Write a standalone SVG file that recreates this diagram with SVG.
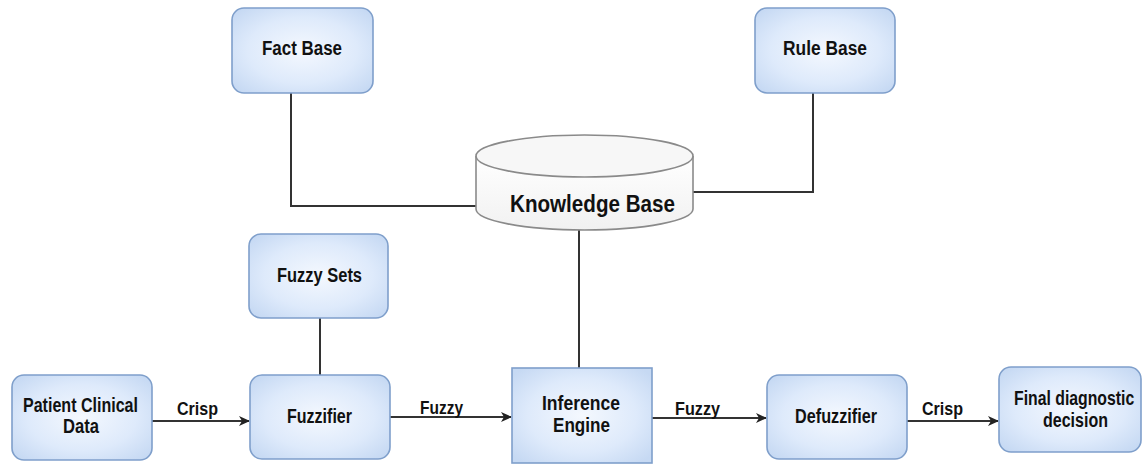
<svg xmlns="http://www.w3.org/2000/svg" width="1145" height="467" viewBox="0 0 1145 467">
<defs>
<radialGradient id="bg" cx="50%" cy="50%" r="65%">
<stop offset="0" stop-color="#f4f8fe"/>
<stop offset="0.6" stop-color="#deeafb"/>
<stop offset="1" stop-color="#c6d9f3"/>
</radialGradient>
<linearGradient id="cyl" x1="0" y1="0" x2="0" y2="1">
<stop offset="0" stop-color="#ffffff"/>
<stop offset="1" stop-color="#f1f1f1"/>
</linearGradient>
<marker id="ah" markerWidth="12" markerHeight="12" refX="10" refY="6" orient="auto" markerUnits="userSpaceOnUse">
<path d="M0,1 L11,6 L0,11 L3,6 Z" fill="#222"/>
</marker>
</defs>
<style>
.box{fill:url(#bg);stroke:#7f9fcb;stroke-width:1.6}
.t{font-family:"Liberation Sans",Arial,sans-serif;font-weight:bold;font-size:20px;fill:#111}
.lb{font-family:"Liberation Sans",Arial,sans-serif;font-weight:bold;font-size:19px;fill:#111}
.ln{fill:none;stroke:#333;stroke-width:2}
.ar{fill:none;stroke:#333;stroke-width:2;marker-end:url(#ah)}
</style>
<rect width="1145" height="467" fill="#fff"/>

<g id="connectors">
<polyline class="ln" points="291,93 291,206 477,206"/>
<polyline class="ln" points="813,93 813,192 692,192"/>
<line class="ln" x1="579" y1="230" x2="579" y2="368"/>
<line class="ln" x1="320" y1="318" x2="320" y2="375"/>
<line class="ar" x1="152" y1="421" x2="249" y2="421"/>
<line class="ar" x1="390" y1="417" x2="511" y2="417"/>
<line class="ar" x1="652" y1="418" x2="766" y2="418"/>
<line class="ar" x1="907" y1="421" x2="998" y2="421"/>
<text class="lb" x="177" y="415" textLength="41" lengthAdjust="spacingAndGlyphs">Crisp</text>
<text class="lb" x="420" y="414" textLength="43" lengthAdjust="spacingAndGlyphs">Fuzzy</text>
<text class="lb" x="675" y="415" textLength="45" lengthAdjust="spacingAndGlyphs">Fuzzy</text>
<text class="lb" x="922" y="415" textLength="41" lengthAdjust="spacingAndGlyphs">Crisp</text>
</g>

<g id="fact-base">
<rect class="box" x="232" y="8" width="141" height="85" rx="12"/>
<text class="t" x="262" y="55" textLength="80" lengthAdjust="spacingAndGlyphs">Fact Base</text>
</g>

<g id="rule-base">
<rect class="box" x="755" y="8" width="140" height="85" rx="12"/>
<text class="t" x="783" y="55" textLength="84" lengthAdjust="spacingAndGlyphs">Rule Base</text>
</g>

<g id="knowledge-base">
<path d="M476,156 L476,209 A108.5,21 0 0 0 693,209 L693,156" fill="url(#cyl)" stroke="#8a8a8a" stroke-width="1.6"/>
<ellipse cx="584.5" cy="156" rx="108.5" ry="21" fill="#f7f7f7" stroke="#8a8a8a" stroke-width="1.6"/>
<text x="510" y="212" font-family="Liberation Sans, Arial, sans-serif" font-weight="bold" font-size="23" fill="#111" textLength="165" lengthAdjust="spacingAndGlyphs">Knowledge Base</text>
</g>

<g id="fuzzy-sets">
<rect class="box" x="249" y="234" width="139" height="84" rx="12"/>
<text class="t" x="277" y="282" textLength="85" lengthAdjust="spacingAndGlyphs">Fuzzy Sets</text>
</g>

<g id="patient-data">
<rect class="box" x="12" y="375" width="140" height="85" rx="12"/>
<text class="t" x="23" y="412" textLength="115" lengthAdjust="spacingAndGlyphs">Patient Clinical</text>
<text class="t" x="63" y="433" textLength="36" lengthAdjust="spacingAndGlyphs">Data</text>
</g>

<g id="fuzzifier">
<rect class="box" x="250" y="375" width="140" height="84" rx="12"/>
<text class="t" x="287" y="423" textLength="65" lengthAdjust="spacingAndGlyphs">Fuzzifier</text>
</g>

<g id="inference-engine">
<rect class="box" x="512" y="368" width="140" height="95"/>
<text class="t" x="542" y="410" textLength="78" lengthAdjust="spacingAndGlyphs">Inference</text>
<text class="t" x="553" y="432" textLength="57" lengthAdjust="spacingAndGlyphs">Engine</text>
</g>

<g id="defuzzifier">
<rect class="box" x="767" y="375" width="140" height="84" rx="12"/>
<text class="t" x="795" y="423" textLength="82" lengthAdjust="spacingAndGlyphs">Defuzzifier</text>
</g>

<g id="final-decision">
<rect class="box" x="999" y="367" width="142" height="85" rx="12"/>
<text class="t" transform="translate(1014,405) scale(0.79,1)" x="0" y="0">Final diagnostic</text>
<text class="t" x="1043" y="427" textLength="65" lengthAdjust="spacingAndGlyphs">decision</text>
</g>
</svg>
